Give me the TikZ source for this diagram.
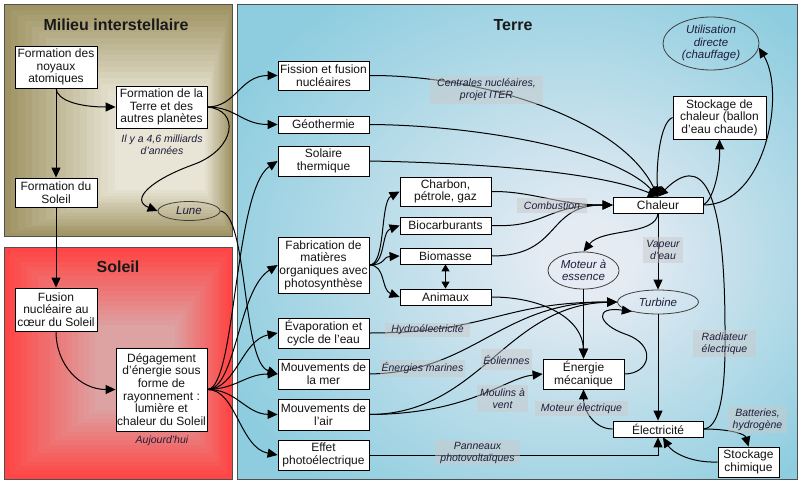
\documentclass[tikz,border=0pt]{standalone}
\usepackage{fontspec}
\setmainfont{Liberation Sans}
\usetikzlibrary{arrows.meta,shapes.geometric}

\definecolor{milOut}{HTML}{A09464}
\definecolor{milIn}{HTML}{E8E5D6}
\definecolor{solOut}{HTML}{FF4545}
\definecolor{solIn}{HTML}{DDA3A3}
\definecolor{terOut}{HTML}{8DCDDF}
\definecolor{terIn}{HTML}{E4EBF3}
\definecolor{lblfill}{HTML}{CACACA}
\definecolor{lbltext}{HTML}{1E1E3C}
\definecolor{panelline}{HTML}{505050}

\pgfdeclareradialshading{terreshade}{\pgfpoint{7bp}{-2bp}}{color(0bp)=(terIn); color(4bp)=(terIn); color(32bp)=(terOut); color(50bp)=(terOut)}

\newcommand\myBoxFont{\fontsize{12}{12.6}\selectfont}
\newcommand\myLblFont{\itshape\fontsize{10.5}{12}\selectfont}
\newcommand\myOvalFont{\itshape\fontsize{11.5}{12.5}\selectfont}
\newcommand\myTtlFont{\bfseries\fontsize{16}{18}\selectfont}

\tikzset{
  nbox/.style={draw=black, line width=0.8pt, fill=white, align=center, font=\myBoxFont, inner sep=1pt, text=black!92},
  oval/.style={ellipse, draw=black!75, line width=0.8pt, align=center, font=\myOvalFont, inner sep=0pt, text=lbltext},
  lbl/.style={fill=lblfill, fill opacity=0.5, text opacity=1, align=center, font=\myLblFont, text=lbltext, inner sep=0pt},
  note/.style={align=center, font=\myLblFont, text=lbltext},
  arr/.style={-{Triangle[length=10pt,width=9pt]}, line width=1pt},
  dblarr/.style={{Triangle[length=7pt,width=8pt]}-{Triangle[length=7pt,width=8pt]}, line width=1pt},
  ttl/.style={font=\myTtlFont, text=black!90},
  panel/.style={draw=panelline, line width=0.9pt}
}

\begin{document}
\begin{tikzpicture}[x=1pt,y=-1pt]
\useasboundingbox (0,0) rectangle (800,485);
\fill[white] (0,0) rectangle (800,485);

% Milieu interstellaire panel
\foreach \i in {0,...,16}{
  \pgfmathtruncatemacro\mixP{100*\i/16}
  \pgfmathsetmacro\rax{4+(115-4)*\i/16}
  \pgfmathsetmacro\ray{4+(95-4)*\i/16}
  \pgfmathsetmacro\rbx{232+(205-232)*\i/16}
  \pgfmathsetmacro\rby{236+(190-236)*\i/16}
  \fill[milIn!\mixP!milOut] (\rax,\ray) rectangle (\rbx,\rby);
}
\draw[panel] (4,4) rectangle (232,236);

% Soleil panel
\foreach \i in {0,...,16}{
  \pgfmathtruncatemacro\mixP{100*\i/16}
  \pgfmathsetmacro\rax{4+(95-4)*\i/16}
  \pgfmathsetmacro\ray{247+(325-247)*\i/16}
  \pgfmathsetmacro\rbx{232+(175-232)*\i/16}
  \pgfmathsetmacro\rby{479+(410-479)*\i/16}
  \fill[solIn!\mixP!solOut] (\rax,\ray) rectangle (\rbx,\rby);
}
\draw[panel] (4,247) rectangle (232,479);

% Terre panel
\shade[shading=terreshade] (237,4) rectangle (797,479);
\draw[panel] (237,4) rectangle (797,479);

% titles
\node[ttl] (tmil) at (116,25) {Milieu interstellaire};
\node[ttl] (tsol) at (118,267) {Soleil};
\node[ttl] (tter) at (513,25) {Terre};

% left nodes
\node[nbox, minimum width=82, minimum height=42] (noyaux) at (56,67) {Formation des\\noyaux\\atomiques};
\node[nbox, minimum width=91, minimum height=42] (terreform) at (161.5,107) {Formation de la\\Terre et des\\autres planètes};
\node[note] (ago) at (162,145) {Il y a 4,6 milliards\\d'années};
\node[nbox, minimum width=82, minimum height=29] (solform) at (56,192.5) {Formation du\\Soleil};
\node[oval, minimum width=62, minimum height=19] (lune) at (189,211) {Lune};
\node[nbox, minimum width=82, minimum height=43] (fusion) at (56,309.5) {Fusion\\nucléaire au\\cœur du Soleil};
\node[nbox, minimum width=91, minimum height=83] (degag) at (161.5,389.5) {Dégagement\\d'énergie sous\\forme de\\rayonnement :\\lumière et\\chaleur du Soleil};
\node[note] (today) at (162,441) {Aujourd'hui};

% Terre nodes, column 1
\node[nbox, minimum width=91, minimum height=29] (fission) at (323.5,75.5) {Fission et fusion\\nucléaires};
\node[nbox, minimum width=91, minimum height=17] (geo) at (323.5,124.5) {Géothermie};
\node[nbox, minimum width=91, minimum height=30] (solar) at (323.5,161) {Solaire\\thermique};
\node[nbox, minimum width=91, minimum height=56] (fab) at (323.5,265) {Fabrication de\\matières\\organiques avec\\photosynthèse};
\node[nbox, minimum width=91, minimum height=30] (evap) at (323.5,333) {Évaporation et\\cycle de l'eau};
\node[nbox, minimum width=91, minimum height=30] (mer) at (323.5,374) {Mouvements de\\la mer};
\node[nbox, minimum width=91, minimum height=31] (air) at (323.5,414.5) {Mouvements de\\l'air};
\node[nbox, minimum width=91, minimum height=30] (photo) at (323.5,455) {Effet\\photoélectrique};

% column 2
\node[nbox, minimum width=91, minimum height=29] (charbon) at (445.5,191.5) {Charbon,\\pétrole, gaz};
\node[nbox, minimum width=91, minimum height=17] (biocarb) at (445.5,225.5) {Biocarburants};
\node[nbox, minimum width=91, minimum height=16] (biomasse) at (445.5,256) {Biomasse};
\node[nbox, minimum width=91, minimum height=16] (animaux) at (445.5,297) {Animaux};

% right part
\node[nbox, minimum width=90, minimum height=16] (chaleur) at (658,205) {Chaleur};
\node[nbox, minimum width=93, minimum height=43] (stockchal) at (719.5,117.5) {Stockage de\\chaleur (ballon\\d'eau chaude)};
\node[oval, minimum width=96, minimum height=53] (util) at (711,43.5) {Utilisation\\directe\\(chauffage)};
\node[oval, minimum width=71, minimum height=37] (moteur) at (583.5,270.5) {Moteur à\\essence};
\node[oval, minimum width=81, minimum height=24] (turbine) at (658,302) {Turbine};
\node[nbox, minimum width=81, minimum height=30] (energmec) at (583.5,374) {Énergie\\mécanique};
\node[nbox, minimum width=90, minimum height=16] (elec) at (658,429) {Électricité};
\node[nbox, minimum width=61, minimum height=30] (stockchim) at (748.5,462) {Stockage\\chimique};

% edges: left panels
\draw[arr] (noyaux.south) .. controls (57,100) and (78,107) .. (terreform.west);
\draw[arr] (noyaux.south) -- (solform.north);
\draw[arr] (solform.south) -- (fusion.north);
\draw[arr] (fusion.south) .. controls (56,365) and (80,389.5) .. (degag.west);
\draw[arr] (terreform.east) .. controls (236,107) and (240,75.5) .. (fission.west);
\draw[arr] (terreform.east) .. controls (236,107) and (242,124.5) .. (geo.west);
\draw[arr] (terreform.east) .. controls (240,110) and (236,148) .. (195,164) .. controls (150,180) and (130,200) .. (lune.west);
\draw[arr] (lune.east) .. controls (248,215) and (242,362) .. (mer.west);

% fan from degagement
\draw[arr] (degag.east) .. controls (236,389) and (234,190) .. (solar.west);
\draw[arr] (degag.east) .. controls (236,389) and (238,290) .. (fab.west);
\draw[arr] (degag.east) .. controls (236,389) and (242,340) .. (evap.west);
\draw[arr] (degag.east) .. controls (236,389) and (246,374) .. (mer.west);
\draw[arr] (degag.east) .. controls (236,389) and (246,414) .. (air.west);
\draw[arr] (degag.east) .. controls (236,389) and (240,448) .. (photo.west);

% fan from fabrication
\draw[arr] (fab.east) .. controls (386,265) and (380,202) .. (charbon.west);
\draw[arr] (fab.east) .. controls (386,265) and (381,232) .. (biocarb.west);
\draw[arr] (fab.east) .. controls (386,265) and (382,257) .. (biomasse.west);
\draw[arr] (fab.east) .. controls (386,265) and (381,290) .. (animaux.west);
\draw[dblarr] (biomasse.south) -- (animaux.north);

% into chaleur (top)
\draw[arr] (fission.east) .. controls (480,75) and (620,118) .. (chaleur.north);
\draw[arr] (geo.east) .. controls (470,125) and (612,148) .. (chaleur.north);
\draw[arr] (solar.east) .. controls (480,163) and (600,172) .. (chaleur.north);
\draw[arr] (stockchal.west) .. controls (660,122) and (656,165) .. (chaleur.north);
\draw[arr] (elec.east) .. controls (718,428) and (726,400) .. (725,330) .. controls (725,180) and (700,155) .. (chaleur.north);

% combustion
\draw[arr] (charbon.east) .. controls (532,191) and (558,205) .. (chaleur.west);
\draw[arr] (biocarb.east) .. controls (546,228) and (545,205) .. (chaleur.west);
\draw[arr] (biomasse.east) .. controls (562,256) and (545,205) .. (chaleur.west);

% out of chaleur
\draw[arr] (chaleur.south) -- (turbine.north);
\draw[arr] (chaleur.south) .. controls (656,236) and (602,228) .. (moteur.north);
\draw[arr] (chaleur.east) .. controls (713,200) and (720,172) .. (stockchal.south);
\draw[arr] (chaleur.east) .. controls (766,205) and (786,92) .. (util.-5);

% energie mecanique
\draw[arr] (animaux.east) .. controls (545,297) and (583,320) .. (energmec.north);
\draw[arr] (moteur.south) -- (energmec.north);
\draw[arr] (elec.west) .. controls (594,429) and (583.5,410) .. (energmec.south);
\draw[arr] (air.east) .. controls (470,414) and (505,378) .. (energmec.west);

% turbine inputs
\draw[arr] (evap.east) .. controls (490,333) and (500,302) .. (turbine.west);
\draw[arr] (mer.east) .. controls (475,372) and (500,302) .. (turbine.west);
\draw[arr] (air.east) .. controls (480,414) and (505,305) .. (turbine.west);
\draw[arr] (energmec.east) .. controls (650,374) and (658,345) .. (625,334) .. controls (597,324) and (594,306) .. (turbine.200);

% electricity
\draw[arr] (turbine.south) -- (elec.north);
\draw[arr] (photo.east) -| (elec.south);
\draw[arr] (elec.east) .. controls (730,429) and (745,434) .. (stockchim.north);
\draw[arr] (stockchim.west) .. controls (690,463) and (672,452) .. ([xshift=5pt]elec.south);

% labels
\node[lbl, minimum width=113, minimum height=28] (lcent) at (486.5,90) {Centrales nucléaires,\\projet ITER};
\node[lbl, minimum width=70, minimum height=15] (lcomb) at (552,205.5) {Combustion};
\node[lbl, minimum width=85, minimum height=14] (lhydro) at (427.5,330) {Hydroélectricité};
\node[lbl, minimum width=85, minimum height=17] (lmar) at (422.5,368.5) {Énergies marines};
\node[lbl, minimum width=51, minimum height=21] (leol) at (506.5,359.5) {Éoliennes};
\node[lbl, minimum width=51, minimum height=27] (lmoul) at (502.5,398.5) {Moulins à\\vent};
\node[lbl, minimum width=85, minimum height=25] (lpan) at (477.5,452.5) {Panneaux\\photovoltaïques};
\node[lbl, minimum width=93, minimum height=15] (lmot) at (581.5,408.5) {Moteur électrique};
\node[lbl, minimum width=40, minimum height=26] (lvap) at (663,250) {Vapeur\\d'eau};
\node[lbl, minimum width=63, minimum height=27] (lrad) at (724.5,343.5) {Radiateur\\électrique};
\node[lbl, minimum width=59, minimum height=27] (lbat) at (757.5,419.5) {Batteries,\\hydrogène};
\end{tikzpicture}
\end{document}
